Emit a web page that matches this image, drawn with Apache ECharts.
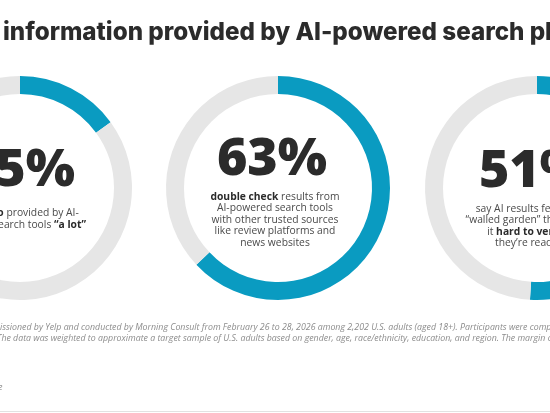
<!DOCTYPE html>
<html>
<head>
<meta charset="utf-8">
<script src="https://cdn.jsdelivr.net/npm/echarts@6/dist/echarts.min.js"></script>
<style>
html,body{margin:0;padding:0;background:#ffffff;}
#chart{width:550px;height:413px;}
</style>
</head>
<body>
<div id="chart"></div>
<script>
// ---- data ----
const categories = ['trust info a lot', 'double check results', 'walled garden'];
const values = [15, 63, 51];
const valueLabels = ['15%', '63%', '51%'];
const descriptions = [
  '{b|trust info} provided by AI-\npowered search tools {b|“a lot”}',
  '{b|double check} results from\nAI-powered search tools\nwith other trusted sources\nlike review platforms and\nnews websites',
  'say AI results feel like a\n“walled garden” that makes\nit {b|hard to verify} if\nthey\u2019re reading'
];
const titleText = 'information provided by AI-powered search platforms';
const footnoteLines = [
  'issioned by Yelp and conducted by Morning Consult from February 26 to 28, 2026 among 2,202 U.S. adults (aged 18+). Participants were completed online.',
  'The data was weighted to approximate a target sample of U.S. adults based on gender, age, race/ethnicity, education, and region. The margin of error is +/-2%.'
];

// ---- layout ----
const centersX = [20, 278, 537];
const centerY = 188;
const BLUE = '#0a9bc1';
const GREY = '#e6e6e6';

const chart = echarts.init(document.getElementById('chart'), null, {renderer: 'canvas'});

const series = values.map((v, i) => ({
  type: 'pie',
  name: categories[i],
  center: [centersX[i], centerY],
  radius: [94, 112],
  startAngle: 90,
  clockwise: true,
  silent: true,
  animation: false,
  label: {show: false},
  labelLine: {show: false},
  itemStyle: {borderWidth: 0},
  data: [
    {value: v, name: categories[i], itemStyle: {color: BLUE}},
    {value: 100 - v, name: 'rest', itemStyle: {color: GREY}}
  ]
}));

const numberY = [171, 160, 172];
const numberX = [20, 272, 534];
const descX = [17, 275, 531];
const descY = [219, 220, 226];
const graphics = [];
values.forEach((v, i) => {
  graphics.push({
    type: 'text', x: numberX[i], y: numberY[i], silent: true,
    style: {
      text: valueLabels[i], fill: '#2b2b2b',
      font: '800 52px "Open Sans"', align: 'center', verticalAlign: 'middle'
    }
  });
  graphics.push({
    type: 'text', x: descX[i], y: descY[i], silent: true,
    style: {
      text: descriptions[i], fill: '#4a4a4a',
      fontFamily: 'Open Sans', fontSize: 10.3, lineHeight: 11.5,
      align: 'center', verticalAlign: 'middle',
      rich: {b: {fontWeight: 'bold', fill: '#2b2b2b', fontFamily: 'Open Sans', fontSize: 10.3, lineHeight: 11.5}}
    }
  });
});

graphics.push({
  type: 'text', x: 3, y: 33, silent: true,
  style: {text: titleText, fill: '#2b2b2b', font: '800 24.2px "Inter"', align: 'left', verticalAlign: 'middle'}
});
footnoteLines.forEach((t, i) => {
  graphics.push({
    type: 'text', x: i === 0 ? 0 : -3, y: 327 + i * 11, silent: true,
    style: {text: t, fill: '#8c8c8c', font: 'italic 8.8px "Open Sans"', align: 'left', verticalAlign: 'middle'}
  });
});
graphics.push({
  type: 'text', x: -2, y: 387, silent: true,
  style: {text: 'e', fill: '#8c8c8c', font: 'italic 9px "Open Sans"', align: 'left', verticalAlign: 'middle'}
});
graphics.push({
  type: 'rect', silent: true,
  shape: {x: 0, y: 411, width: 550, height: 1},
  style: {fill: '#e2e2e2'}
});

chart.setOption({
  backgroundColor: '#ffffff',
  animation: false,
  series: series,
  graphic: graphics
});
</script>
</body>
</html>
